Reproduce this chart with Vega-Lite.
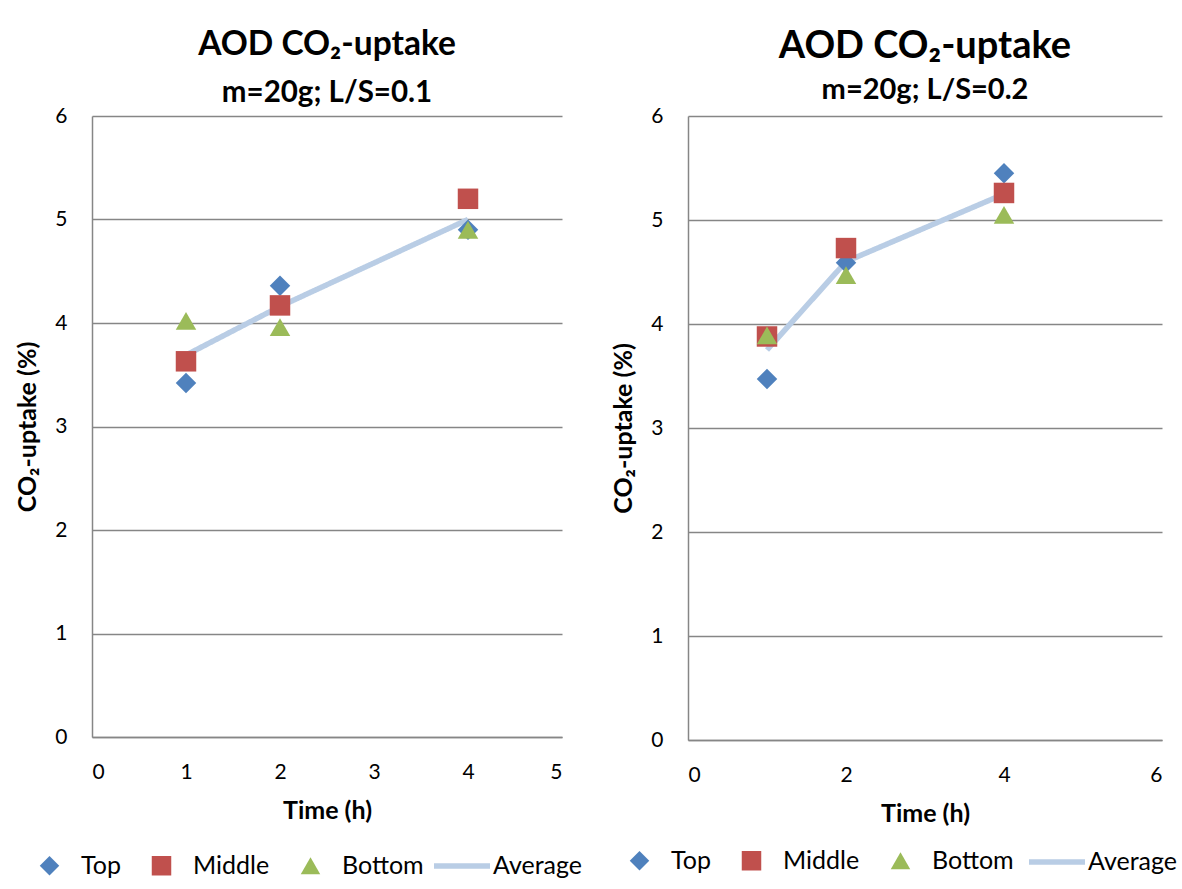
{
  "$schema": "https://vega.github.io/schema/vega-lite/v6.json",
  "background": "white",
  "padding": {"left": 15, "top": 28, "right": 0, "bottom": 0},
  "spacing": 28,
  "config": {
    "font": "Lato",
    "view": {"stroke": null},
    "axis": {
      "domainColor": "#868686",
      "domainWidth": 1.5,
      "gridColor": "#868686",
      "gridWidth": 1.5,
      "ticks": false,
      "labelFont": "Lato",
      "labelFontSize": 21,
      "labelColor": "black",
      "format": "d",
      "titleFont": "Lato",
      "titleFontSize": 25,
      "titleFontWeight": "bold",
      "titleColor": "black"
    },
    "legend": {
      "labelFont": "Lato",
      "labelFontSize": 25,
      "labelColor": "black"
    },
    "title": {"color": "black", "subtitleColor": "black", "font": "Lato", "subtitleFont": "Lato", "fontWeight": "bold", "subtitleFontWeight": "bold", "anchor": "middle"}
  },
  "datasets": {
    "left": [
      {"series": "Top", "time": 1, "uptake": 3.42},
      {"series": "Top", "time": 2, "uptake": 4.36},
      {"series": "Top", "time": 4, "uptake": 4.9},
      {"series": "Middle", "time": 1, "uptake": 3.63},
      {"series": "Middle", "time": 2, "uptake": 4.17},
      {"series": "Middle", "time": 4, "uptake": 5.2},
      {"series": "Bottom", "time": 1, "uptake": 4.02},
      {"series": "Bottom", "time": 2, "uptake": 3.96},
      {"series": "Bottom", "time": 4, "uptake": 4.9},
      {"series": "Average", "time": 1, "uptake": 3.69},
      {"series": "Average", "time": 2, "uptake": 4.16},
      {"series": "Average", "time": 4, "uptake": 5.0}
    ],
    "right": [
      {"series": "Top", "time": 1, "uptake": 3.47},
      {"series": "Top", "time": 2, "uptake": 4.59},
      {"series": "Top", "time": 4, "uptake": 5.45},
      {"series": "Middle", "time": 1, "uptake": 3.88},
      {"series": "Middle", "time": 2, "uptake": 4.73},
      {"series": "Middle", "time": 4, "uptake": 5.26},
      {"series": "Bottom", "time": 1, "uptake": 3.89},
      {"series": "Bottom", "time": 2, "uptake": 4.47},
      {"series": "Bottom", "time": 4, "uptake": 5.05},
      {"series": "Average", "time": 1, "uptake": 3.75},
      {"series": "Average", "time": 2, "uptake": 4.6},
      {"series": "Average", "time": 4, "uptake": 5.25}
    ]
  },
  "resolve": {
    "scale": {"color": "independent", "shape": "independent", "strokeDash": "independent", "x": "independent", "y": "independent"},
    "legend": {"color": "independent", "shape": "independent", "strokeDash": "independent"}
  },
  "hconcat": [
    {
      "width": 470,
      "height": 621,
      "data": {"name": "left"},
      "title": {"text": "AOD CO₂-uptake", "subtitle": "m=20g; L/S=0.1", "fontSize": 33.5, "subtitleFontSize": 29.5, "subtitlePadding": 16, "offset": -3},
      "layer": [
        {
          "transform": [{"filter": "datum.series === 'Average'"}],
          "mark": {"type": "line", "color": "#B9CDE5", "strokeWidth": 5.5},
          "encoding": {
            "x": {"field": "time", "type": "quantitative", "scale": {"domain": [0, 5], "nice": false}, "axis": {"values": [0, 1, 2, 3, 4, 5], "title": "Time (h)", "grid": false, "labelPadding": 24, "titlePadding": 16}},
            "y": {"field": "uptake", "type": "quantitative", "scale": {"domain": [0, 6], "nice": false}, "axis": {"values": [0, 1, 2, 3, 4, 5, 6], "title": "CO₂-uptake (%)", "grid": true, "labelPadding": 25, "titlePadding": 14}},
            "strokeDash": {"field": "series", "type": "nominal", "scale": {"domain": ["Average"], "range": [[1, 0]]}, "legend": {"title": null, "orient": "none", "legendX": 339, "legendY": 719, "symbolType": "stroke", "symbolStrokeColor": "#B9CDE5", "symbolStrokeWidth": 5.5, "symbolSize": 3136, "labelOffset": 0}}
          }
        },
        {
          "transform": [{"filter": "datum.series !== 'Average'"}],
          "mark": {"type": "point", "filled": true, "opacity": 1, "size": 420},
          "encoding": {
            "x": {"field": "time", "type": "quantitative"},
            "y": {"field": "uptake", "type": "quantitative"},
            "color": {"field": "series", "type": "nominal", "scale": {"domain": ["Top", "Middle", "Bottom"], "range": ["#4F81BD", "#C0504D", "#9BBB59"]}, "legend": {"title": null, "orient": "none", "direction": "horizontal", "legendX": -55, "legendY": 737, "symbolSize": 380, "labelOffset": 19, "columnPadding": 28}},
            "shape": {"field": "series", "type": "nominal", "scale": {"domain": ["Top", "Middle", "Bottom"], "range": ["diamond", "square", "triangle-up"]}, "legend": {"title": null, "orient": "none", "direction": "horizontal", "legendX": -55, "legendY": 737, "symbolSize": 380, "labelOffset": 19, "columnPadding": 28}}
          }
        }
      ]
    },
    {
      "width": 474,
      "height": 624,
      "data": {"name": "right"},
      "title": {"text": "AOD CO₂-uptake", "subtitle": "m=20g; L/S=0.2", "fontSize": 38, "subtitleFontSize": 29, "subtitlePadding": 10, "offset": 0},
      "layer": [
        {
          "transform": [{"filter": "datum.series === 'Average'"}],
          "mark": {"type": "line", "color": "#B9CDE5", "strokeWidth": 5.5},
          "encoding": {
            "x": {"field": "time", "type": "quantitative", "scale": {"domain": [0, 6], "nice": false}, "axis": {"values": [0, 2, 4, 6], "title": "Time (h)", "grid": false, "labelPadding": 24, "titlePadding": 16}},
            "y": {"field": "uptake", "type": "quantitative", "scale": {"domain": [0, 6], "nice": false}, "axis": {"values": [0, 1, 2, 3, 4, 5, 6], "title": "CO₂-uptake (%)", "grid": true, "labelPadding": 25, "titlePadding": 14}},
            "strokeDash": {"field": "series", "type": "nominal", "scale": {"domain": ["Average"], "range": [[1, 0]]}, "legend": {"title": null, "orient": "none", "legendX": 338, "legendY": 715, "symbolType": "stroke", "symbolStrokeColor": "#B9CDE5", "symbolStrokeWidth": 5.5, "symbolSize": 3136, "labelOffset": 0}}
          }
        },
        {
          "transform": [{"filter": "datum.series !== 'Average'"}],
          "mark": {"type": "point", "filled": true, "opacity": 1, "size": 420},
          "encoding": {
            "x": {"field": "time", "type": "quantitative"},
            "y": {"field": "uptake", "type": "quantitative"},
            "color": {"field": "series", "type": "nominal", "scale": {"domain": ["Top", "Middle", "Bottom"], "range": ["#4F81BD", "#C0504D", "#9BBB59"]}, "legend": {"title": null, "orient": "none", "direction": "horizontal", "legendX": -61, "legendY": 732, "symbolSize": 380, "labelOffset": 19, "columnPadding": 28}},
            "shape": {"field": "series", "type": "nominal", "scale": {"domain": ["Top", "Middle", "Bottom"], "range": ["diamond", "square", "triangle-up"]}, "legend": {"title": null, "orient": "none", "direction": "horizontal", "legendX": -61, "legendY": 732, "symbolSize": 380, "labelOffset": 19, "columnPadding": 28}}
          }
        }
      ]
    }
  ]
}
